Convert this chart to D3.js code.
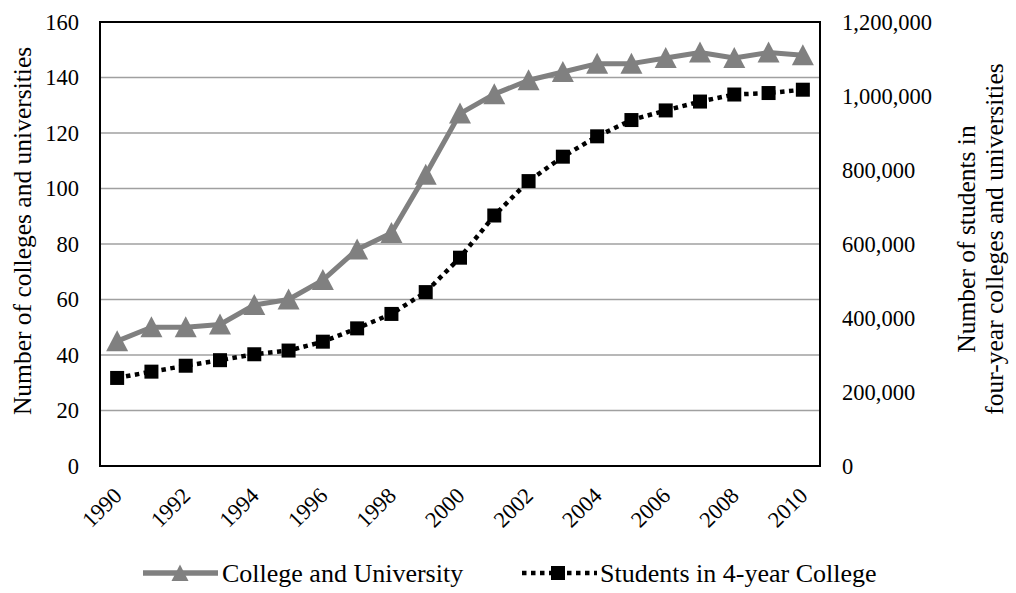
<!DOCTYPE html>
<html>
<head>
<meta charset="utf-8">
<script src="https://cdn.jsdelivr.net/npm/d3@7"></script>
<style>
  html, body { margin: 0; padding: 0; background: #fff; }
  svg { display: block; }
</style>
</head>
<body>
<svg id="chart" width="1016" height="593"></svg>
<script>
// Years on the category axis
const years = [1990, 1991, 1992, 1993, 1994, 1995, 1996, 1997, 1998, 1999, 2000,
               2001, 2002, 2003, 2004, 2005, 2006, 2007, 2008, 2009, 2010];
// Number of colleges and universities (left axis)
const institutions = [45, 50, 50, 51, 58, 60, 67, 78, 84, 105, 127,
                      134, 139, 142, 145, 145, 147, 149, 147, 149, 148];
// Students in four-year colleges and universities (right axis)
const students = [238000, 255000, 271000, 286000, 302000, 312000, 336000, 372000, 411000, 470000, 563000,
                  677000, 770000, 836000, 891000, 935000, 961000, 985000, 1004000, 1008000, 1017000];
const leftTicks = [0, 20, 40, 60, 80, 100, 120, 140, 160];
const rightTicks = [0, 200000, 400000, 600000, 800000, 1000000, 1200000];
const yearLabels = [1990, 1992, 1994, 1996, 1998, 2000, 2002, 2004, 2006, 2008, 2010];

const svg = d3.select("#chart");
const m = { left: 100, right: 820, top: 22, bottom: 466 };

const x = d3.scaleBand().domain(years).range([m.left, m.right]);
const xc = d => x(d) + x.bandwidth() / 2;
const yL = d3.scaleLinear().domain([0, 160]).range([m.bottom, m.top]);
const yR = d3.scaleLinear().domain([0, 1200000]).range([m.bottom, m.top]);

const grey = "#808080";
const serif = '"Liberation Serif", "Times New Roman", serif';
const tickSize = 22.5;
const titleSize = 25.5;
const legendSize = 26;

function applyFont(sel, size) {
  sel.style("font-family", serif).style("font-size", size + "px").style("fill", "#000");
}

// Horizontal gridlines
svg.append("g")
  .selectAll("line")
  .data(leftTicks.filter(t => t > 0 && t < 160))
  .join("line")
  .attr("x1", m.left).attr("x2", m.right)
  .attr("y1", d => yL(d)).attr("y2", d => yL(d))
  .attr("stroke", "#a0a0a0").attr("stroke-width", 1.6);

// Plot-area frame
svg.append("rect")
  .attr("x", m.left).attr("y", m.top)
  .attr("width", m.right - m.left).attr("height", m.bottom - m.top)
  .attr("fill", "none").attr("stroke", "#000").attr("stroke-width", 2);

function styleAxis(g) {
  g.attr("font-family", null);
  g.select(".domain").remove();
  g.selectAll("text").call(applyFont, tickSize);
}

// Left axis
svg.append("g")
  .attr("transform", `translate(${m.left},0)`)
  .call(d3.axisLeft(yL).tickValues(leftTicks).tickSize(0).tickPadding(21))
  .call(styleAxis);

// Right axis
svg.append("g")
  .attr("transform", `translate(${m.right},0)`)
  .call(d3.axisRight(yR).tickValues(rightTicks).tickSize(0).tickPadding(22)
    .tickFormat(d3.format(",")))
  .call(styleAxis);

// Bottom axis with rotated year labels
const axB = svg.append("g")
  .attr("transform", `translate(0,${m.bottom})`)
  .call(d3.axisBottom(x).tickValues(yearLabels).tickSize(0).tickPadding(0))
  .call(styleAxis);
axB.selectAll("text")
  .attr("text-anchor", "end")
  .attr("dy", 0)
  .attr("transform", "translate(6,31) rotate(-45)");

// Axis titles
svg.append("text")
  .attr("transform", `translate(31,${(m.top + m.bottom) / 2 - 13}) rotate(-90)`)
  .attr("text-anchor", "middle")
  .call(applyFont, titleSize)
  .text("Number of colleges and universities");

const rt = svg.append("text")
  .attr("transform", `translate(975,${(m.top + m.bottom) / 2 - 5}) rotate(-90)`)
  .attr("text-anchor", "middle")
  .call(applyFont, titleSize);
rt.append("tspan").attr("x", 0).attr("dy", 0).text("Number of students in");
rt.append("tspan").attr("x", 0).attr("dy", 28).text("four-year colleges and universities");

// Marker shapes
const triPath = "M0,-11L11,10L-11,10Z";
const triSmall = "M0,-8.5L8.5,8L-8.5,8Z";
const sq = 14;

// College and University series
svg.append("path")
  .datum(institutions)
  .attr("fill", "none").attr("stroke", grey).attr("stroke-width", 5)
  .attr("stroke-linejoin", "round")
  .attr("d", d3.line().x((d, i) => xc(years[i])).y(d => yL(d)));
svg.append("g")
  .selectAll("path")
  .data(institutions)
  .join("path")
  .attr("d", triPath)
  .attr("fill", grey)
  .attr("transform", (d, i) => `translate(${xc(years[i])},${yL(d)})`);

// Students series (dotted)
svg.append("path")
  .datum(students)
  .attr("fill", "none").attr("stroke", "#000").attr("stroke-width", 4.5)
  .attr("stroke-dasharray", "4.5,4.5")
  .attr("d", d3.line().x((d, i) => xc(years[i])).y(d => yR(d)));
svg.append("g")
  .selectAll("rect")
  .data(students)
  .join("rect")
  .attr("x", (d, i) => xc(years[i]) - sq / 2)
  .attr("y", d => yR(d) - sq / 2)
  .attr("width", sq).attr("height", sq)
  .attr("fill", "#000");

// Legend
const ly = 573;
const lg = svg.append("g");
lg.append("line").attr("x1", 143).attr("x2", 218).attr("y1", ly).attr("y2", ly)
  .attr("stroke", grey).attr("stroke-width", 5.5);
lg.append("path").attr("d", triSmall).attr("fill", grey)
  .attr("transform", `translate(180,${ly})`);
lg.append("text").attr("x", 222).attr("y", ly).attr("dy", "0.33em")
  .call(applyFont, legendSize).text("College and University");

lg.append("line").attr("x1", 522).attr("x2", 597).attr("y1", ly).attr("y2", ly)
  .attr("stroke", "#000").attr("stroke-width", 4.5).attr("stroke-dasharray", "4.5,4.5");
lg.append("rect").attr("x", 558 - sq / 2).attr("y", ly - sq / 2)
  .attr("width", sq).attr("height", sq).attr("fill", "#000");
lg.append("text").attr("x", 600).attr("y", ly).attr("dy", "0.33em")
  .call(applyFont, legendSize).text("Students in 4-year College");
</script>
</body>
</html>
